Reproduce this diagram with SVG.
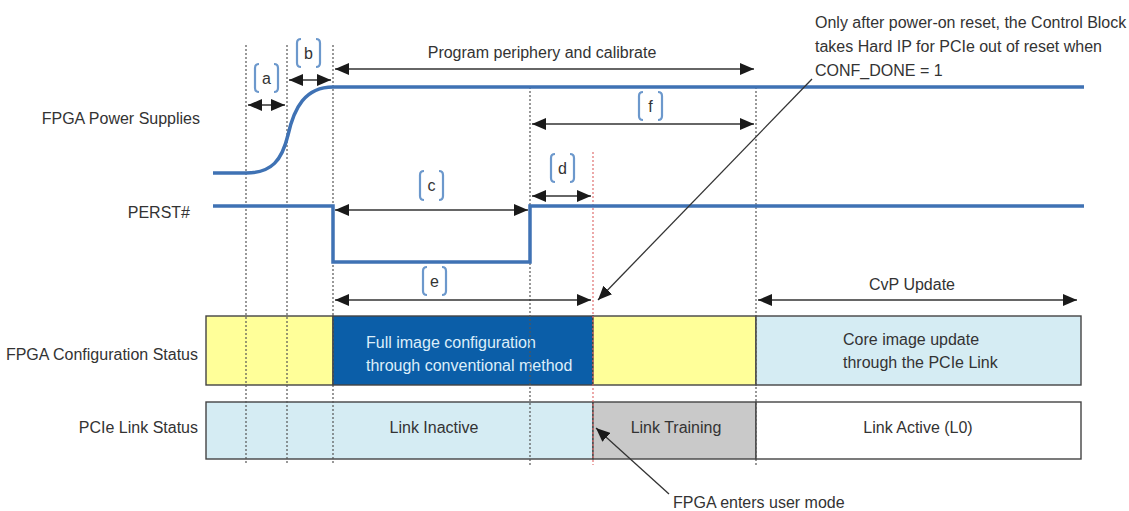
<svg xmlns="http://www.w3.org/2000/svg" width="1129" height="511" viewBox="0 0 1129 511">
<defs>
<marker id="ah" viewBox="0 0 14 12" refX="14" refY="6" markerWidth="14" markerHeight="12" markerUnits="userSpaceOnUse" orient="auto-start-reverse">
<path d="M0,0 L14,6 L0,12 Z" fill="#1a1a1a"/>
</marker>
<style>
text{font-family:"Liberation Sans Narrow","Liberation Sans",Arial,sans-serif;font-size:16px;fill:#333}
.sig{fill:none;stroke:#3f72b4;stroke-width:3.5}
.dim{fill:none;stroke:#333;stroke-width:1.6;marker-start:url(#ah);marker-end:url(#ah)}
.ptr{fill:none;stroke:#333;stroke-width:1.3;marker-end:url(#ah)}
.dot{stroke:#555;stroke-width:1.2;stroke-dasharray:2 2}
.red{stroke:#e07070;stroke-width:1.2;stroke-dasharray:2 2}
.br{fill:none;stroke:#6c98cc;stroke-width:2.2}
.box{stroke:#444;stroke-width:1.4}
.lbl{text-anchor:end}
.mid{text-anchor:middle}
.wt{fill:#dceefa}
</style>
</defs>
<rect width="1129" height="511" fill="#ffffff"/>

<g id="row-labels">
<text class="lbl" x="200" y="124">FPGA Power Supplies</text>
<text class="lbl" x="190" y="218">PERST#</text>
<text class="lbl" x="198" y="360">FPGA Configuration Status</text>
<text class="lbl" x="198" y="433">PCIe Link Status</text>
</g>

<g id="config-status">
<rect class="box" x="206" y="316" width="127" height="69" fill="#ffff99"/>
<rect class="box" x="333" y="316" width="260" height="69" fill="#0b5ea8"/>
<rect class="box" x="593" y="316" width="163" height="69" fill="#ffff99"/>
<rect class="box" x="756" y="316" width="325" height="69" fill="#d5ecf3"/>
<text class="wt" x="366" y="348">Full image configuration</text>
<text class="wt" x="366" y="371">through conventional method</text>
<text x="843" y="345">Core image update</text>
<text x="843" y="368">through the PCIe Link</text>
</g>

<g id="link-status">
<rect class="box" x="206" y="402" width="387" height="57" fill="#d5ecf3"/>
<rect class="box" x="593" y="402" width="163" height="57" fill="#c9c9c9"/>
<rect class="box" x="756" y="402" width="325" height="57" fill="#ffffff"/>
<text class="mid" x="434" y="433">Link Inactive</text>
<text class="mid" x="676" y="433">Link Training</text>
<text class="mid" x="918" y="433">Link Active (L0)</text>
</g>

<g id="gridlines">
<line class="dot" x1="246" y1="45" x2="246" y2="465"/>
<line class="dot" x1="287" y1="45" x2="287" y2="465"/>
<line class="dot" x1="333" y1="45" x2="333" y2="465"/>
<line class="dot" x1="530" y1="87" x2="530" y2="465"/>
<line class="dot" x1="756" y1="87" x2="756" y2="465"/>
<line class="red" x1="593" y1="152" x2="593" y2="465"/>
</g>

<g id="signals">
<path class="sig" d="M213,173 H246 C272,173 282,160 288,135 C294,108 305,87 333,87 H1084"/>
<path class="sig" d="M213,206 H333 V262 H530 V206 H1084"/>
</g>

<g id="connectors">
<line class="dim" x1="248" y1="105" x2="285" y2="105"/>
<line class="dim" x1="289" y1="80" x2="331" y2="80"/>
<line class="dim" x1="335" y1="69" x2="754" y2="69"/>
<line class="dim" x1="532" y1="124" x2="754" y2="124"/>
<line class="dim" x1="335" y1="210" x2="528" y2="210"/>
<line class="dim" x1="532" y1="196" x2="591" y2="196"/>
<line class="dim" x1="335" y1="300" x2="591" y2="300"/>
<line class="dim" x1="758" y1="300" x2="1077" y2="300"/>
<line class="ptr" x1="812" y1="79" x2="598" y2="300"/>
<line class="ptr" x1="669" y1="494" x2="596" y2="428"/>
</g>

<g id="interval-labels">
<path class="br" d="M259,64 Q255,64 255,68 V88 Q255,92 259,92 M274,64 Q278,64 278,68 V88 Q278,92 274,92"/>
<text class="mid" x="266.5" y="84">a</text>
<path class="br" d="M301,39 Q297,39 297,43 V63 Q297,67 301,67 M316,39 Q320,39 320,43 V63 Q320,67 316,67"/>
<text class="mid" x="308.5" y="59">b</text>
<path class="br" d="M424,171 Q420,171 420,175 V196 Q420,200 424,200 M439,171 Q443,171 443,175 V196 Q443,200 439,200"/>
<text class="mid" x="431.5" y="191">c</text>
<path class="br" d="M555,154 Q551,154 551,158 V178 Q551,182 555,182 M570,154 Q574,154 574,158 V178 Q574,182 570,182"/>
<text class="mid" x="562.5" y="174">d</text>
<path class="br" d="M427,267 Q423,267 423,271 V291 Q423,295 427,295 M442,267 Q446,267 446,271 V291 Q446,295 442,295"/>
<text class="mid" x="434.5" y="287">e</text>
<path class="br" d="M643,92 Q639,92 639,96 V116 Q639,120 643,120 M658,92 Q662,92 662,96 V116 Q662,120 658,120"/>
<text class="mid" x="650.5" y="112">f</text>
</g>

<g id="annotations">
<text class="mid" x="542" y="58">Program periphery and calibrate</text>
<text class="mid" x="912" y="290">CvP Update</text>
<text x="815" y="28">Only after power-on reset, the Control Block</text>
<text x="815" y="52">takes Hard IP for PCIe out of reset when</text>
<text x="815" y="76">CONF_DONE = 1</text>
<text x="673" y="508">FPGA enters user mode</text>
</g>
</svg>
